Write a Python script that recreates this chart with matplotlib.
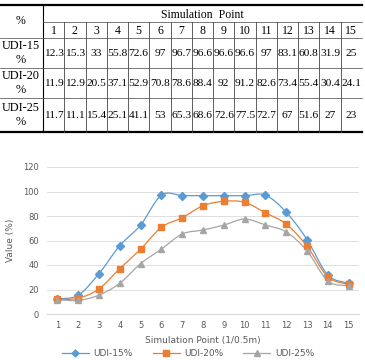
import numpy as np
import matplotlib
matplotlib.use('Agg')
import matplotlib.pyplot as plt
from matplotlib.path import Path
from matplotlib.patches import PathPatch
from matplotlib.lines import Line2D

# datos de la tabla / grafica
puntos = list(range(1, 16))
udi15 = [12.3, 15.3, 33, 55.8, 72.6, 97, 96.7, 96.6, 96.6, 96.6, 97, 83.1, 60.8, 31.9, 25]
udi20 = [11.9, 12.9, 20.5, 37.1, 52.9, 70.8, 78.6, 88.4, 92, 91.2, 82.6, 73.4, 55.4, 30.4, 24.1]
udi25 = [11.7, 11.1, 15.4, 25.1, 41.1, 53, 65.3, 68.6, 72.6, 77.5, 72.7, 67, 51.6, 27, 23]
filas = ['UDI-15\n%', 'UDI-20\n%', 'UDI-25\n%']
series = ['UDI-15%', 'UDI-20%', 'UDI-25%']
colores = ['#5B9BD5', '#ED7D31', '#A5A5A5']
marcadores = ['D', 's', '^']

W, H = 365, 360
fig = plt.figure(figsize=(W/100, H/100), dpi=100)

# ---- tabla (coordenadas en pixeles) ----
tb = fig.add_axes([0, 0, 1, 1])
tb.set_xlim(0, W)
tb.set_ylim(H, 0)
tb.axis('off')
serif = 'Liberation Serif'
x0, x1, xend = 0, 43, 362
cw = (xend - x1) / 15
ytop, yh, yn, ybot = 5, 22, 38, 132
yrows = [yn, 68, 98, ybot]
tb.plot([x0, xend], [ytop, ytop], color='black', lw=1.6)
tb.plot([x0, xend], [ybot, ybot], color='black', lw=1.6)
tb.plot([x1, x1], [ytop, ybot], color='black', lw=0.8)
tb.plot([x1, xend], [yh, yh], color='#444444', lw=0.5)
for y in yrows[:-1]:
    tb.plot([x0, xend], [y, y], color='#444444', lw=0.5)
for j in range(1, 15):
    xx = x1 + j*cw
    tb.plot([xx, xx], [yh, ybot], color='#444444', lw=0.6)
tb.text(21, (ytop+yn)/2, '%', ha='center', va='center', family=serif, fontsize=8.5)
tb.text((x1+xend)/2, (ytop+yh)/2+1, 'Simulation  Point', ha='center', va='center', family=serif, fontsize=8.5)
for j, p in enumerate(puntos):
    tb.text(x1 + (j+0.5)*cw, (yh+yn)/2+1, str(p), ha='center', va='center', family=serif, fontsize=8.5)
for i, (nombre, vals) in enumerate(zip(filas, [udi15, udi20, udi25])):
    ya, yb = yrows[i], yrows[i+1]
    tb.text(21, (ya+yb)/2, nombre, ha='center', va='center', family=serif, fontsize=8.8, linespacing=1.3)
    for j, v in enumerate(vals):
        tb.text(x1 + (j+0.5)*cw, (ya+yb)/2, '%g' % v, ha='center', va='center', family=serif, fontsize=8.2)

# ---- grafica ----
ax = fig.add_axes([47/W, 1-314/H, (359-47)/W, (314-167)/H])

def curva(x, y):
    # curva suave tipo excel (bezier catmull-rom)
    p = np.column_stack([x, y]).astype(float)
    verts = [p[0]]
    codes = [Path.MOVETO]
    n = len(p)
    for i in range(n-1):
        a = p[i-1] if i > 0 else p[i]
        b, c = p[i], p[i+1]
        d = p[i+2] if i+2 < n else p[i+1]
        verts += [b + (c-a)/6, c - (d-b)/6, c]
        codes += [Path.CURVE4]*3
    return Path(verts, codes)

for vals, col, mk in zip([udi15, udi20, udi25], colores, marcadores):
    ax.add_patch(PathPatch(curva(puntos, vals), fill=False, edgecolor=col, lw=0.9, zorder=2))
    ax.plot(puntos, vals, ls='none', marker=mk, color=col, ms=4.5 if mk != 'D' else 3.8, zorder=3)

ax.set_xlim(0.5, 15.5)
ax.set_ylim(0, 120)
ax.set_yticks(range(0, 121, 20))
ax.set_xticks(puntos)
ax.grid(axis='y', color='#D9D9D9', lw=0.6)
ax.set_axisbelow(True)
for s in ['top', 'right', 'left']:
    ax.spines[s].set_visible(False)
ax.spines['bottom'].set_color('#D9D9D9')
ax.tick_params(length=0, labelsize=6, colors='#595959', pad=6)
ax.tick_params(axis='x', pad=5)
ax.set_ylabel('Value (%)', fontsize=6.5, color='#595959', labelpad=6)
ax.set_xlabel('Simulation Point (1/0.5m)', fontsize=6.5, color='#595959', labelpad=4)

handles = [Line2D([], [], color=c, marker=m, ms=4 if m != 'D' else 3.5, lw=0.9) for c, m in zip(colores, marcadores)]
leg = fig.legend(handles, series, loc='center', bbox_to_anchor=(0.515, 1-354/H), ncol=3, frameon=False,
                 fontsize=6.5, handlelength=3, columnspacing=2.2, handletextpad=0.5)
for t in leg.get_texts():
    t.set_color('#595959')

fig.savefig('out.png', dpi=100)
